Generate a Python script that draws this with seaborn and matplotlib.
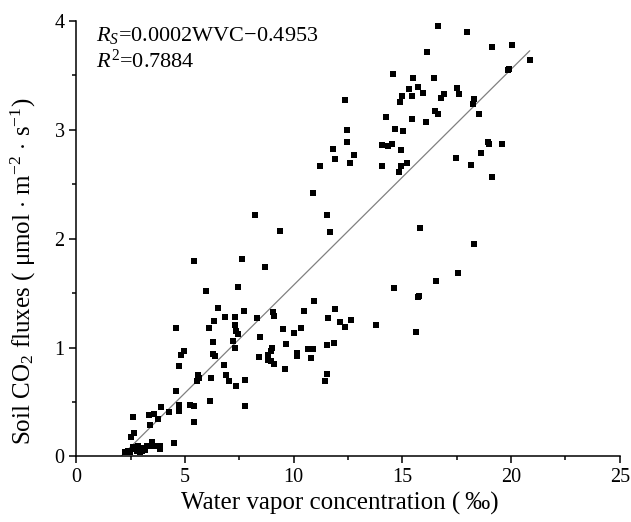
import numpy as np
import pandas as pd
import seaborn as sns
import matplotlib.pyplot as plt

# water vapor concentration (permil) and soil CO2 flux
wvc = [
    2.24, 2.39, 2.47, 2.59, 2.70, 2.85, 2.92, 3.00, 3.07, 3.23, 3.38, 3.50,
    3.61, 3.84, 3.84, 3.15, 2.77,
    2.65, 2.50, 4.49, 2.62, 3.35, 3.56, 3.76, 3.38, 3.91, 4.26, 4.70, 4.72,
    5.24, 5.39, 5.42, 4.60, 6.13, 7.76, 5.58, 5.62, 5.54, 6.20, 6.90, 7.03,
    7.33, 7.76, 6.81, 4.73, 4.93, 4.81, 6.28, 6.40, 6.28, 7.19, 7.30, 8.47,
    8.41, 8.82, 8.97, 9.02, 8.82, 8.95, 9.07, 7.28, 7.35, 7.44, 4.56, 6.10,
    6.32, 8.33, 9.03, 9.07, 6.84, 7.31, 7.69, 6.51, 5.98, 7.44,
    10.90, 8.24, 11.52, 9.37, 11.66, 7.64, 8.68, 5.40, 14.62, 10.93, 11.91,
    10.46, 11.58, 12.63, 12.13, 12.37, 13.78, 10.34, 10.03, 9.51, 9.64,
    11.52, 11.84, 10.14, 10.14, 10.67, 10.87, 10.80, 9.58, 11.52, 11.44,
    15.79, 18.28, 17.55, 16.56, 15.74, 15.78, 15.63,
    16.65, 17.96, 19.14, 20.06, 20.86, 16.14, 19.88, 19.92, 14.56, 15.47,
    16.46, 15.32, 15.74, 15.94, 15.44, 14.96, 14.90, 16.79, 16.93, 17.50,
    17.59, 18.29, 18.25, 14.23, 16.49, 16.64, 15.44, 16.07, 18.52, 14.68,
    15.02, 14.04, 14.32, 14.36, 14.54, 14.93, 18.93, 18.99, 19.60, 18.64,
    17.47, 18.14, 19.11, 14.06, 14.93, 15.21, 14.86,
    12.36, 12.46, 12.46, 11.81, 12.78, 11.91, 12.58, 11.20,
]
flux = [
    0.04, 0.05, 0.04, 0.09, 0.07, 0.10, 0.04, 0.05, 0.08, 0.10, 0.10, 0.13,
    0.10, 0.10, 0.07, 0.06, 0.05,
    0.22, 0.18, 0.12, 0.36, 0.38, 0.39, 0.34, 0.29, 0.45, 0.41, 0.47, 0.42,
    0.47, 0.46, 0.32, 0.60, 0.51, 0.46, 0.75, 0.72, 0.69, 0.72, 0.75, 0.69,
    0.65, 0.70, 0.84, 0.83, 0.97, 0.93, 0.94, 0.92, 1.05, 1.06, 1.00, 1.10,
    0.91, 0.93, 0.97, 1.00, 0.89, 0.88, 0.85, 1.21, 1.15, 1.12, 1.18, 1.18,
    1.24, 1.27, 1.33, 1.29, 1.28, 1.28, 1.34, 1.36, 1.52, 1.56,
    2.42, 2.22, 2.22, 2.07, 2.06, 1.81, 1.74, 1.79, 1.55, 1.43, 1.35,
    1.34, 1.27, 1.25, 1.23, 1.19, 1.21, 1.18, 1.13, 1.17, 1.03,
    1.02, 1.04, 0.95, 0.92, 0.99, 0.99, 0.90, 0.80, 0.76, 0.69,
    2.10, 1.95, 1.68, 1.61, 1.46, 1.47, 1.14,
    3.95, 3.90, 3.76, 3.78, 3.64, 3.71, 3.55, 3.56, 3.51, 3.47,
    3.47, 3.37, 3.39, 3.34, 3.31, 3.31, 3.25, 3.29, 3.33, 3.38,
    3.33, 3.28, 3.24, 3.12, 3.17, 3.14, 3.10, 3.07, 3.14, 3.01,
    2.99, 2.86, 2.85, 2.85, 2.87, 2.81, 2.89, 2.87, 2.87, 2.79,
    2.74, 2.68, 2.57, 2.67, 2.67, 2.69, 2.61,
    3.27, 3.00, 2.89, 2.82, 2.77, 2.73, 2.69, 2.67,
]

# fitted line as drawn in the figure
fit_slope = 0.198
fit_intercept = -0.406
fit_range = [2.05, 20.86]

df = pd.DataFrame({"wvc": wvc, "flux": flux})
fit = pd.DataFrame({"wvc": fit_range})
fit["flux"] = fit_slope * fit["wvc"] + fit_intercept

sns.set_theme(style="ticks")
plt.rcParams["font.family"] = ["Liberation Serif", "DejaVu Serif"]
plt.rcParams["mathtext.fontset"] = "custom"
plt.rcParams["mathtext.rm"] = "Liberation Serif"
plt.rcParams["mathtext.it"] = "Liberation Serif:italic"

fig = plt.figure(figsize=(6.31, 5.22), dpi=100)
ax = fig.add_axes([0.1211, 0.1255, 0.861, 0.8348])

sns.lineplot(data=fit, x="wvc", y="flux", ax=ax, color="#808080", linewidth=0.9)
sns.scatterplot(data=df, x="wvc", y="flux", ax=ax, marker="s", s=18,
                color="black", linewidth=0, zorder=3)

ax.set_xlim(0, 25)
ax.set_ylim(0, 4)
ax.set_xticks([0, 5, 10, 15, 20, 25])
ax.set_xticks([2.5, 7.5, 12.5, 17.5, 22.5], minor=True)
ax.set_yticks([0, 1, 2, 3, 4])
ax.set_yticks([0.5, 1.5, 2.5, 3.5], minor=True)
ax.tick_params(which="major", direction="out", length=5, width=1.1,
               labelsize=14.5, color="black", labelcolor="black")
ax.tick_params(which="minor", direction="out", length=3, width=1.1, color="black")
sns.despine(ax=ax)
for s in ["left", "bottom"]:
    ax.spines[s].set_linewidth(1.1)
    ax.spines[s].set_color("black")

ax.set_xlabel("Water vapor concentration (\u2009‰)", fontsize=18, color="black",
              va="center")
ax.xaxis.set_label_coords(0.485, -0.107)
ax.set_ylabel(r"Soil CO$_2$ fluxes ( $\mathrm{\mu}$mol $\cdot$ m$^{-2}$ $\cdot$ s$^{-1}$)",
              fontsize=18, color="black", va="center")
ax.yaxis.set_label_coords(-0.098, 0.425)

ax.text(0.036, 0.966, "$R_S$=0.0002WVC\u22120.4953", transform=ax.transAxes,
        fontsize=16, va="center", ha="left", color="black")
ax.text(0.036, 0.908, r"$R^{\mathrm{2}}$=0.7884", transform=ax.transAxes,
        fontsize=16, va="center", ha="left", color="black")

fig.savefig("out.png", dpi=100)
